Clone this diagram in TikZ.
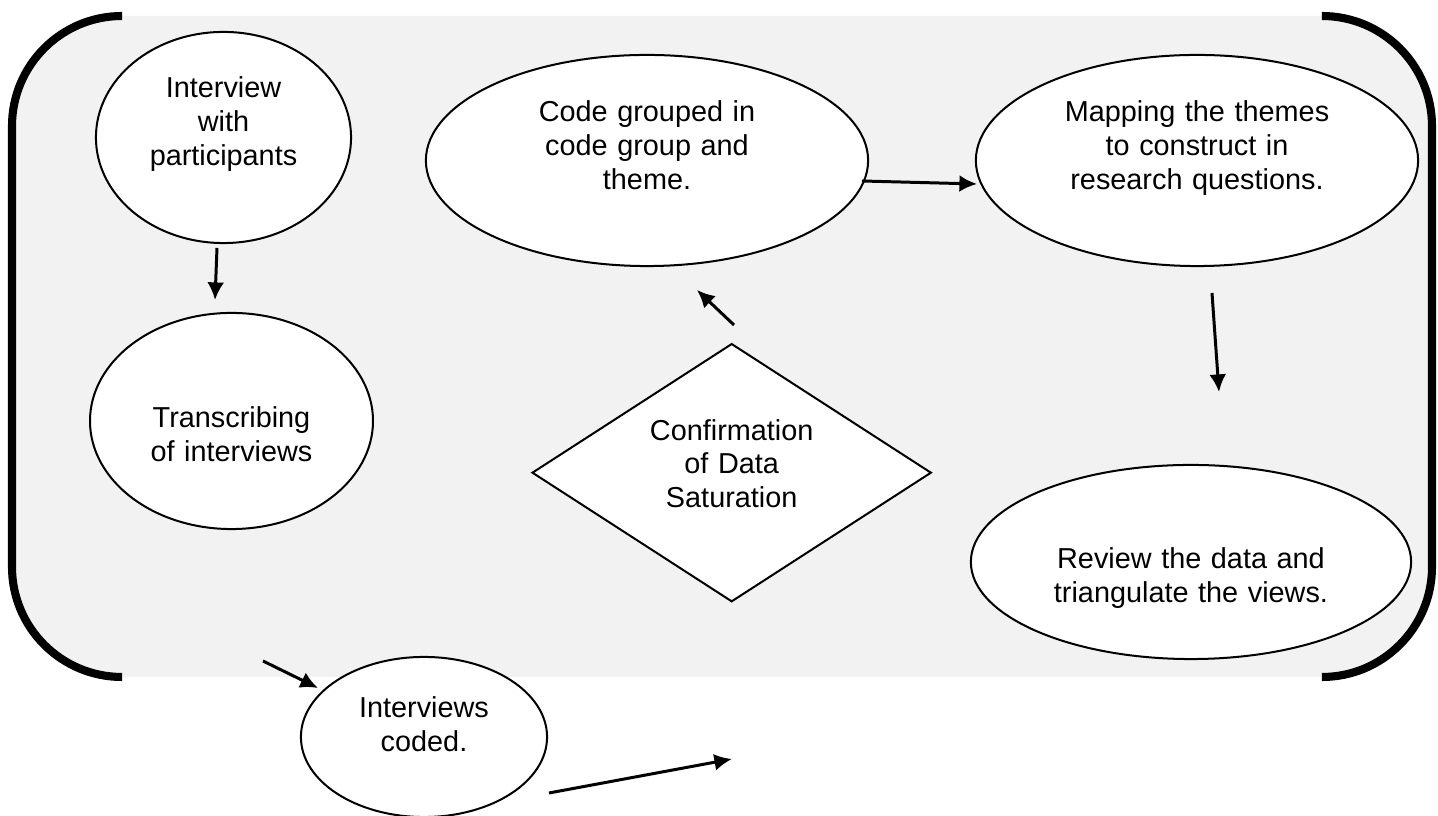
\documentclass[tikz,border=0pt]{standalone}
\usepackage{fontspec}
\setmainfont{Liberation Sans}
\usetikzlibrary{positioning,arrows.meta,shapes.geometric}
\definecolor{panelgray}{RGB}{242,242,242}

\begin{document}
\begin{tikzpicture}[x=0.01cm,y=-0.01cm,bubble/.style={ellipse,draw=black,fill=white,line width=.57pt,inner sep=0pt,align=center,text height=0pt,font=\fontsize{8.2}{9.6}\selectfont},decision/.style={diamond,draw=black,fill=white,line width=.57pt,inner sep=0pt,align=center,text height=0pt,font=\fontsize{8.2}{9.6}\selectfont},arr/.style={-{Latex[length=5pt,width=4.8pt]},line width=.85pt},bracket/.style={line width=2.3pt,rounded corners=1.1cm}]
\useasboundingbox (0,0) rectangle (1438,816);
% grey panel with the two side brackets
\fill[panelgray,rounded corners=1.1cm] (12,16) rectangle (1432,677);
\draw[bracket] (122,16) -- (12,16) -- (12,677) -- (122,677);
\draw[bracket] (1322,16) -- (1432,16) -- (1432,677) -- (1322,677);
% steps
\node[bubble,minimum width=2.55cm,minimum height=2.11cm,text width=1.7cm,text depth=.79cm] (intv) at (223.5,137.5) {Interview\\with\\participants};
\node[bubble,minimum width=2.79cm,minimum height=2.16cm,text width=2cm,text depth=0pt,text height=.14cm] (trans) at (231.5,421) {Transcribing\\of interviews};
\node[bubble,minimum width=4.42cm,minimum height=2.11cm,text width=2.6cm,text depth=.77cm] (code) at (647,160.5) {Code grouped in\\code group and\\theme.};
\node[bubble,minimum width=4.42cm,minimum height=2.11cm,text width=2.8cm,text depth=.77cm] (map) at (1197,160.5) {Mapping the themes\\to construct in\\research questions.};
\node[decision,minimum width=3.99cm,minimum height=2.58cm,text width=1.9cm,text depth=.65cm] (sat) at (731.7,472.7) {Confirmation\\of Data\\Saturation};
\node[bubble,minimum width=4.4cm,minimum height=1.94cm,text width=2.9cm,text depth=0pt,text height=.14cm] (rev) at (1191,562) {Review the data and\\triangulate the views.};
\node[bubble,minimum width=2.46cm,minimum height=1.6cm,text width=1.4cm,text depth=.38cm] (coded) at (424,737) {Interviews\\coded.};
% arrows
\coordinate (a1s) at (217,248); \coordinate (a1e) at (215,300);
\coordinate (a2s) at (263,661); \coordinate (a2e) at (318,688);
\coordinate (a3s) at (549,793); \coordinate (a3e) at (732,759);
\coordinate (a4s) at (734,325); \coordinate (a4e) at (697,290);
\coordinate (a5s) at (862,181); \coordinate (a5e) at (977,184);
\coordinate (a6s) at (1212,293); \coordinate (a6e) at (1219,392);
\draw[arr] (a1s) -- (a1e);
\draw[arr] (a2s) -- (a2e);
\draw[arr] (a3s) -- (a3e);
\draw[arr] (a4s) -- (a4e);
\draw[arr] (a5s) -- (a5e);
\draw[arr] (a6s) -- (a6e);
\end{tikzpicture}
\end{document}
